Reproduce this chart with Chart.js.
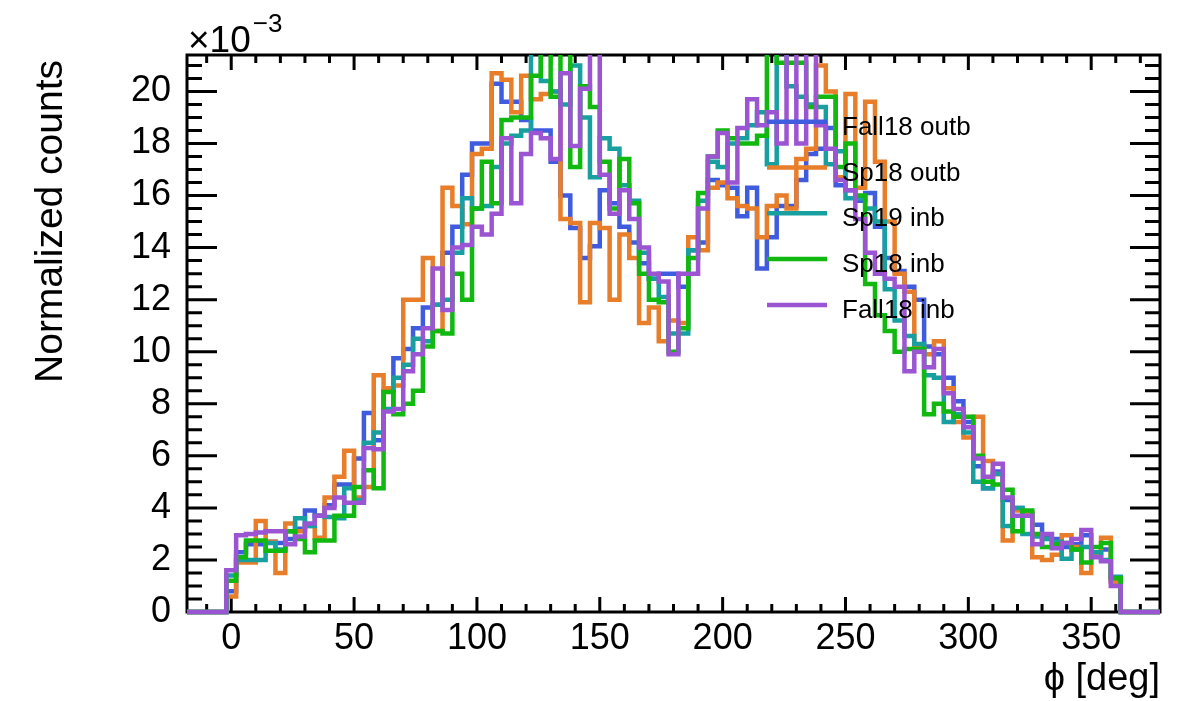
<!DOCTYPE html>
<html>
<head>
<meta charset="utf-8">
<script src="https://cdn.jsdelivr.net/npm/chart.js@4.4.1/dist/chart.umd.min.js"></script>
<style>
html, body { margin: 0; padding: 0; background: #fff; }
</style>
</head>
<body>
<canvas id="myChart" width="1179" height="701"></canvas>
<script>
// phi bin centres [deg], 4 deg bins
const phiBins = [0, 4, 8, 12, 16, 20, 24, 28, 32, 36,
	40, 44, 48, 52, 56, 60, 64, 68, 72, 76,
	80, 84, 88, 92, 96, 100, 104, 108, 112, 116,
	120, 124, 128, 132, 136, 140, 144, 148, 152, 156,
	160, 164, 168, 172, 176, 180, 184, 188, 192, 196,
	200, 204, 208, 212, 216, 220, 224, 228, 232, 236,
	240, 244, 248, 252, 256, 260, 264, 268, 272, 276,
	280, 284, 288, 292, 296, 300, 304, 308, 312, 316,
	320, 324, 328, 332, 336, 340, 344, 348, 352, 356,
	360];

// normalized counts, x 10^-3
const fall18outb = [0.8, 2.3, 2.6, 2.6, 2.7, 2.65, 2.8, 3.2, 3.9, 3.7,
	4.1, 4.9, 4.9, 5.9, 7.65, 6.6, 8.5, 9.75, 10.1, 10.9,
	11.7, 11.8, 13.8, 14.8, 16.8, 18.0, 18.0, 20.3, 19.6, 19.6,
	18.9, 18.5, 18.5, 17.3, 16.0, 14.75, 13.6, 14.05, 16.2, 15.7,
	14.8, 14.2, 13.4, 12.8, 13.0, 13.0, 12.5, 13.9, 14.2, 16.6,
	16.4, 16.3, 15.2, 16.3, 13.2, 14.4, 15.6, 15.6, 16.6, 17.6,
	17.8, 18.6, 16.4, 16.2, 15.8, 16.1, 14.8, 13.6, 13.1, 12.5,
	12.0, 10.2, 9.9, 9.0, 8.1, 7.3, 5.6, 4.75, 5.4, 4.3,
	4.0, 3.8, 3.35, 2.95, 2.8, 2.5, 2.6, 2.95, 2.3, 2.4,
	1.2];
const sp18outb = [0.6, 1.9, 1.9, 3.5, 2.7, 1.5, 3.4, 3.1, 3.3, 2.85,
	4.4, 5.2, 6.2, 4.4, 4.8, 9.1, 8.6, 8.7, 12.0, 12.0,
	13.6, 10.8, 16.3, 15.6, 14.9, 17.6, 17.8, 20.7, 20.45, 19.2,
	20.6, 19.7, 19.9, 20.0, 15.1, 14.95, 11.9, 14.95, 14.75, 12.0,
	14.5, 13.6, 11.1, 11.7, 10.4, 11.2, 11.1, 14.4, 13.9, 16.3,
	16.5, 15.9, 15.6, 15.5, 14.4, 15.6, 16.0, 15.5, 17.4, 17.8,
	21.0, 20.0, 16.7, 19.9, 16.3, 19.6, 17.3, 15.0, 13.0, 12.3,
	10.2, 9.9, 10.4, 8.6, 7.3, 6.7, 7.5, 5.8, 5.3, 2.75,
	3.9, 3.8, 2.1, 2.0, 2.2, 2.95, 2.5, 1.5, 2.2, 2.85,
	1.15];
const sp19inb = [1.4, 2.0, 2.0, 2.0, 2.65, 2.4, 3.1, 3.6, 3.3, 3.7,
	3.65, 3.6, 4.75, 4.3, 6.5, 6.9, 7.8, 9.0, 9.5, 10.5,
	10.4, 11.8, 12.0, 13.8, 15.9, 15.5, 15.6, 17.1, 18.0, 18.3,
	18.5, 21.5, 20.4, 20.0, 19.5, 21.0, 19.0, 16.7, 18.2, 17.8,
	16.4, 15.8, 13.8, 12.8, 12.1, 10.7, 10.7, 13.9, 15.8, 17.3,
	17.1, 18.0, 18.2, 18.7, 19.2, 17.2, 21.5, 20.2, 19.8, 19.5,
	19.4, 17.2, 17.7, 15.9, 15.9, 15.5, 15.0, 12.4, 11.2, 10.6,
	10.3, 9.1, 9.0, 7.3, 7.6, 6.9, 5.0, 4.75, 5.3, 3.3,
	4.0, 3.0, 2.9, 2.8, 2.7, 2.05, 2.4, 2.5, 2.3, 2.0,
	1.35];
const sp18inb = [1.2, 2.1, 2.75, 2.75, 2.35, 2.35, 3.1, 2.8, 2.3, 2.75,
	2.75, 3.7, 3.7, 4.8, 5.45, 4.75, 8.45, 7.6, 8.0, 8.5,
	10.2, 10.8, 10.7, 13.0, 12.0, 15.5, 17.3, 15.7, 18.9, 19.0,
	19.0, 20.6, 21.5, 19.8, 21.5, 17.1, 20.2, 19.4, 17.3, 15.5,
	17.4, 15.7, 13.0, 12.0, 11.9, 10.0, 10.9, 13.6, 16.1, 17.5,
	18.5, 18.2, 18.0, 18.0, 18.3, 21.5, 21.1, 21.1, 21.1, 19.4,
	19.8, 19.8, 17.1, 18.0, 16.0, 12.6, 11.4, 10.8, 10.0, 10.1,
	10.1, 7.6, 8.0, 7.7, 7.5, 7.5, 6.0, 5.0, 4.9, 4.7,
	3.1, 3.9, 3.0, 2.5, 2.6, 2.65, 2.4, 1.9, 2.5, 2.65,
	1.3];
const fall18inb = [1.6, 2.95, 3.0, 3.05, 3.1, 3.1, 2.6, 2.9, 3.4, 3.7,
	4.0, 4.4, 4.2, 4.2, 6.3, 6.25, 7.7, 7.8, 9.25, 9.9,
	10.9, 13.2, 11.6, 14.0, 14.1, 14.8, 14.5, 15.3, 18.2, 15.7,
	17.6, 18.4, 18.2, 17.4, 20.7, 17.9, 20.1, 21.5, 16.8, 15.3,
	16.2, 15.1, 14.0, 13.0, 12.7, 9.9, 13.0, 13.0, 15.5, 17.5,
	18.4, 16.5, 18.6, 19.7, 18.7, 19.2, 18.0, 21.5, 18.0, 21.5,
	18.7, 17.8, 16.6, 16.2, 15.1, 13.8, 13.0, 12.8, 12.5, 9.25,
	10.0, 9.4, 10.1, 8.4, 7.8, 7.1, 5.9, 5.2, 5.7, 4.4,
	3.7, 3.7, 2.6, 3.0, 2.45, 2.65, 2.8, 3.15, 2.1, 1.95,
	1.0];

const seriesNames = ['Fall18 outb', 'Sp18 outb', 'Sp19 inb', 'Sp18 inb', 'Fall18 inb'];
const seriesColors = ['rgb(64,92,222)', 'rgb(232,125,42)', 'rgb(24,160,160)', 'rgb(16,184,16)', 'rgb(155,85,210)'];
const seriesValues = [fall18outb, sp18outb, sp19inb, sp18inb, fall18inb];

const xTicks = [0, 50, 100, 150, 200, 250, 300, 350];
const yTicks = [0, 2, 4, 6, 8, 10, 12, 14, 16, 18, 20];

let xMin = -18, xMax = 378, yMax = 21.4;
let binHalf = 2;
let fontName = '"Liberation Sans", Arial, Helvetica, sans-serif';

// histogram outline: each bin value holds from its low edge to the next point
function histPoints(vals) {
	let pts = [{x: xMin, y: 0}];
	for (let i = 0; i < phiBins.length; i++) {
		pts.push({x: phiBins[i] - binHalf, y: vals[i]});
	}
	pts.push({x: phiBins[phiBins.length - 1] + binHalf, y: 0});
	pts.push({x: xMax, y: 0});
	return pts;
}

let datasets = [];
for (let i = 0; i < seriesNames.length; i++) {
	datasets.push({
		label: seriesNames[i],
		data: histPoints(seriesValues[i]),
		borderColor: seriesColors[i],
		backgroundColor: seriesColors[i],
		borderWidth: 4.5,
		stepped: true,
		pointRadius: 0,
		fill: false,
		clip: {left: 0, top: 0, right: 0, bottom: 4},
		order: seriesNames.length - i
	});
}

// ROOT-like frame, inward ticks, titles and legend
let rootStyle = {
	id: 'rootStyle',
	beforeDatasetsDraw(chart) {
		let ctx = chart.ctx, a = chart.chartArea;
		let xs = chart.scales.x, ys = chart.scales.y;
		ctx.save();
		ctx.strokeStyle = '#000';
		ctx.lineWidth = 3;
		ctx.strokeRect(a.left, a.top, a.right - a.left, a.bottom - a.top);
		ctx.beginPath();
		for (let v = -10; v <= 370; v += 10) {
			let px = xs.getPixelForValue(v);
			let len = (v % 50 === 0) ? 15 : 8;
			ctx.moveTo(px, a.bottom); ctx.lineTo(px, a.bottom - len);
			ctx.moveTo(px, a.top); ctx.lineTo(px, a.top + len);
		}
		for (let v = 0; v <= yMax; v += 0.5) {
			let py = ys.getPixelForValue(v);
			let len = (v % 2 === 0) ? 30 : 15;
			ctx.moveTo(a.left, py); ctx.lineTo(a.left + len, py);
			ctx.moveTo(a.right, py); ctx.lineTo(a.right - len, py);
		}
		ctx.stroke();
		ctx.restore();
	},
	afterDatasetsDraw(chart) {
		let ctx = chart.ctx, a = chart.chartArea;
		ctx.save();
		ctx.fillStyle = '#000';

		// exponent
		ctx.textAlign = 'left';
		ctx.textBaseline = 'alphabetic';
		ctx.font = '37px ' + fontName;
		ctx.fillText('\u00d710', a.left + 1, 52);
		let w = ctx.measureText('\u00d710').width;
		ctx.font = '26px ' + fontName;
		ctx.fillText('\u22123', a.left + 1 + w + 2, 32);

		// y title
		ctx.save();
		ctx.translate(62, 60);
		ctx.rotate(-Math.PI / 2);
		ctx.textAlign = 'right';
		ctx.font = '39px ' + fontName;
		ctx.fillText('Normalized counts', 0, 0);
		ctx.restore();

		// x title
		ctx.textAlign = 'right';
		ctx.font = '38px ' + fontName;
		ctx.fillText('\u03d5 [deg]', a.right, 690);

		// legend
		ctx.textAlign = 'left';
		ctx.font = '26px ' + fontName;
		for (let i = 0; i < seriesNames.length; i++) {
			let ly = 121.7 + 45.8 * i;
			ctx.strokeStyle = seriesColors[i];
			ctx.lineWidth = 4.5;
			ctx.beginPath();
			ctx.moveTo(767, ly);
			ctx.lineTo(827, ly);
			ctx.stroke();
			ctx.fillStyle = '#000';
			ctx.fillText(seriesNames[i], 842, ly + 13);
		}
		ctx.restore();
	}
};

let ctx = document.getElementById('myChart').getContext('2d');
let chart = new Chart(ctx, {
	type: 'line',
	data: { datasets: datasets },
	options: {
		responsive: false,
		animation: false,
		devicePixelRatio: 1,
		layout: { padding: { left: 0, right: 19, top: 55, bottom: 0 } },
		plugins: { legend: { display: false }, tooltip: { enabled: false } },
		scales: {
			x: {
				type: 'linear',
				min: xMin,
				max: xMax,
				grid: { display: false },
				border: { display: false },
				ticks: { color: '#000', font: { family: fontName, size: 36 }, padding: -3, maxRotation: 0, autoSkip: false },
				afterBuildTicks: s => { s.ticks = xTicks.map(v => ({ value: v })); },
				afterFit: s => { s.height = 89; }
			},
			y: {
				type: 'linear',
				min: 0,
				max: yMax,
				grid: { display: false },
				border: { display: false },
				ticks: { color: '#000', font: { family: fontName, size: 36 }, padding: 8, autoSkip: false },
				afterBuildTicks: s => { s.ticks = yTicks.map(v => ({ value: v })); },
				afterFit: s => { s.height; s.width = 187; }
			}
		}
	},
	plugins: [rootStyle]
});
</script>
</body>
</html>
